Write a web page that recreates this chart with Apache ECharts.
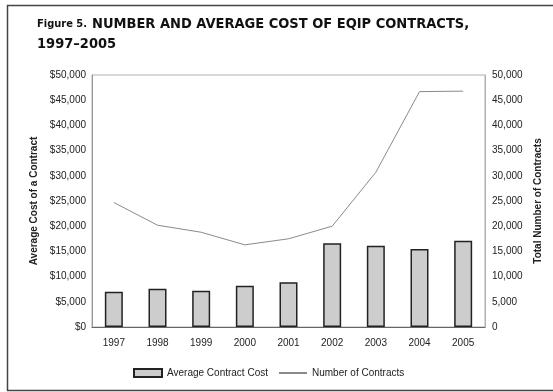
<!DOCTYPE html>
<html>
<head>
<meta charset="utf-8">
<script src="https://cdn.jsdelivr.net/npm/echarts@6/dist/echarts.min.js"></script>
<style>
html,body{margin:0;padding:0;background:#fff;}
#chart{width:553px;height:392px;}
</style>
</head>
<body>
<div id="chart"></div>
<script>
var years = ['1997','1998','1999','2000','2001','2002','2003','2004','2005'];
var avgCost = [7000, 7600, 7200, 8200, 8900, 16600, 16100, 15500, 17100];
var numContracts = [24700, 20200, 18800, 16300, 17500, 20000, 30700, 46700, 46800];

function fmt(v){ return v.toString().replace(/\B(?=(\d{3})+(?!\d))/g, ','); }

var chart = echarts.init(document.getElementById('chart'));
chart.setOption({
  animation: false,
  backgroundColor: '#fff',
  textStyle: { fontFamily: 'Liberation Sans, Arial, sans-serif' },
  title: {
    left: 32, top: 9,
    text: '{s|Figure 5.} {b|NUMBER AND AVERAGE COST OF EQIP CONTRACTS,}\n{b|1997–2005}',
    textStyle: {
      rich: {
        s: { fontFamily: 'DejaVu Sans Condensed', fontWeight: 'bold', fontSize: 11, color: '#111', lineHeight: 20 },
        b: { fontFamily: 'DejaVu Sans Condensed', fontWeight: 'bold', fontSize: 14.5, color: '#111', lineHeight: 20 }
      }
    }
  },
  graphic: [{
    type: 'rect', left: 5, top: 3,
    shape: { width: 560, height: 385 },
    style: { fill: null, stroke: '#444', lineWidth: 1.5 },
    silent: true, z: -1
  }],
  legend: {
    left: 128, top: 363,
    itemWidth: 28, itemHeight: 8, itemGap: 10,
    textStyle: { fontSize: 10, color: '#222', fontFamily: 'Liberation Sans, Arial' },
    data: [
      { name: 'Average Contract Cost', icon: 'rect' },
      { name: 'Number of Contracts', itemStyle: { opacity: 0 } }
    ]
  },
  grid: {
    left: 92, right: 68, top: 75, bottom: 65,
    show: true, borderColor: '#b0b0b0', borderWidth: 1
  },
  xAxis: {
    type: 'category', data: years,
    axisLine: { lineStyle: { color: '#666', width: 1 } },
    axisTick: { show: false },
    axisLabel: { margin: 11, fontSize: 10, color: '#222' }
  },
  yAxis: [{
    type: 'value', min: 0, max: 50000, interval: 5000,
    name: 'Average Cost of a Contract', nameLocation: 'middle', nameRotate: 90, nameGap: 48,
    nameTextStyle: { fontWeight: 'bold', fontSize: 10, color: '#222' },
    axisLine: { show: true, lineStyle: { color: '#999' } },
    axisTick: { show: false },
    splitLine: { show: false },
    axisLabel: { margin: 6, fontSize: 10, color: '#222', formatter: function(v){ return '$' + fmt(v); } }
  }, {
    type: 'value', min: 0, max: 50000, interval: 5000, position: 'right',
    name: 'Total Number of Contracts', nameLocation: 'middle', nameRotate: 90, nameGap: 46,
    nameTextStyle: { fontWeight: 'bold', fontSize: 10, color: '#222' },
    axisLine: { show: true, lineStyle: { color: '#b0b0b0' } },
    axisTick: { show: false },
    splitLine: { show: false },
    axisLabel: { margin: 7, fontSize: 10, color: '#222', formatter: function(v){ return fmt(v); } }
  }],
  series: [{
    name: 'Average Contract Cost', type: 'bar', yAxisIndex: 0,
    data: avgCost, barWidth: 18,
    itemStyle: { color: '#cdcdcd', borderColor: '#222', borderWidth: 1.5 }
  }, {
    name: 'Number of Contracts', type: 'line', yAxisIndex: 1,
    data: numContracts, symbol: 'none',
    lineStyle: { color: '#8a8a8a', width: 1 },
    itemStyle: { color: '#8a8a8a' }
  }]
});
</script>
</body>
</html>
